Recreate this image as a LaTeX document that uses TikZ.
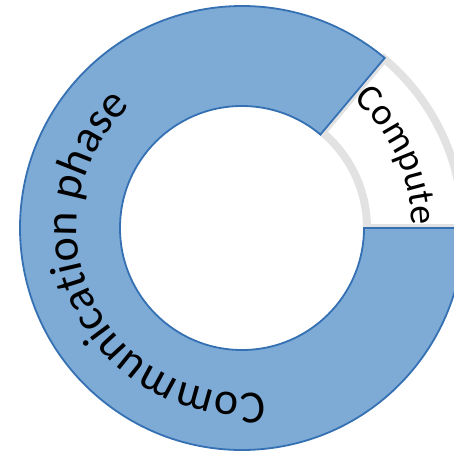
\documentclass[tikz,border=0pt]{standalone}
\usepackage{fontspec}
\setmainfont{Carlito}
\usetikzlibrary{decorations.text}
\definecolor{phaseblue}{RGB}{126,170,214}
\definecolor{phaseedge}{RGB}{52,112,178}
\definecolor{computegray}{RGB}{226,226,226}
\newcommand{\ringfont}{\fontsize{46}{52}\selectfont}
\newcommand{\computefont}{\fontsize{38}{44}\selectfont}

\begin{document}
\begin{tikzpicture}[x=1pt,y=1pt]
  \useasboundingbox (0,0) rectangle (454,451);
  \clip (0,0) rectangle (454,451);
  \coordinate (c) at (242,223);

  % compute slice, grey rim only
  \draw[computegray, line width=8pt]
    ([shift={(0:125)}]c) arc[start angle=0, end angle=50, radius=125]
    -- ([shift={(50:221)}]c) arc[start angle=50, end angle=0, radius=221] -- cycle;

  % communication slice
  \draw[phaseedge, fill=phaseblue, line width=1.8pt]
    ([shift={(50:222)}]c) arc[start angle=50, end angle=360, radius=222]
    -- ([shift={(0:122)}]c) arc[start angle=360, end angle=50, radius=122] -- cycle;

  % labels along the ring
  \path[decorate, decoration={text along path, text align=center,
      text={|\ringfont|Communication phase}}]
    ([shift={(300:165)}]c) arc[start angle=300, end angle=110, radius=165];
  \path[decorate, decoration={text along path, text align=center,
      text={|\computefont|Compute}}]
    ([shift={(60:170)}]c) arc[start angle=60, end angle=-10, radius=170];
\end{tikzpicture}
\end{document}
